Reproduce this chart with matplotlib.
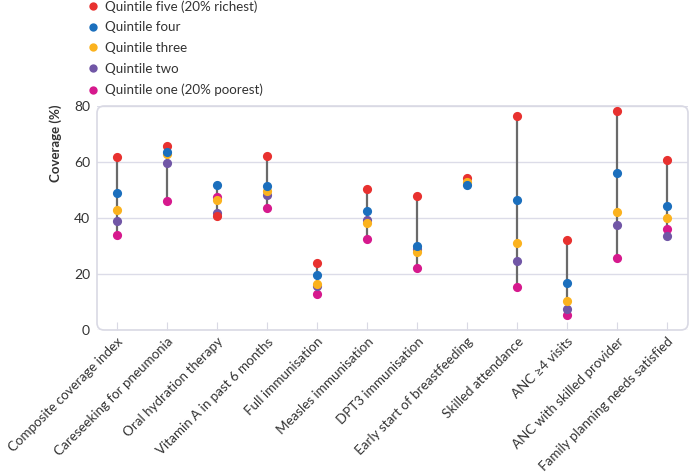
import numpy as np
import matplotlib
matplotlib.use("Agg")
import matplotlib.pyplot as plt
from matplotlib.patches import FancyBboxPatch
from matplotlib.lines import Line2D

plt.rcParams['font.family'] = ['Lato', 'DejaVu Sans']

categories = [
    "Composite coverage index",
    "Careseeking for pneumonia",
    "Oral hydration therapy",
    "Vitamin A in past 6 months",
    "Full immunisation",
    "Measles immunisation",
    "DPT3 immunisation",
    "Early start of breastfeeding",
    "Skilled attendance",
    "ANC \u22654 visits",
    "ANC with skilled provider",
    "Family planning needs satisfied",
]

q5 = [61.7, 65.8, 40.6, 62.0, 23.8, 50.5, 48.0, 54.4, 76.5, 32.1, 78.1, 60.8]
q4 = [48.8, 63.6, 51.7, 51.4, 19.5, 42.6, 30.1, 51.7, 46.4, 16.7, 56.1, 44.4]
q3 = [42.9, 63.0, 46.3, 49.5, 16.4, 38.2, 27.9, 53.0, 31.0, 10.4, 42.3, 40.0]
q2 = [38.9, 59.6, 41.7, 48.1, 15.7, 39.3, 29.0, np.nan, 24.6, 7.5, 37.6, 33.5]
q1 = [33.9, 46.2, 47.4, 43.7, 13.0, 32.5, 22.1, np.nan, 15.4, 5.5, 25.7, 36.0]

series_labels = [
    "Quintile five (20% richest)",
    "Quintile four",
    "Quintile three",
    "Quintile two",
    "Quintile one (20% poorest)",
]
colors = ["#e8312f", "#1b6fbd", "#fbb21e", "#7156a6", "#d6198d"]
yticks = [0, 20, 40, 60, 80]

text_color = "#333333"
frame_color = "#d9d9e4"

W, H = 690, 473
fig = plt.figure(figsize=(W / 100, H / 100), dpi=100)
ax = fig.add_axes([97 / W, 1 - 330 / H, (688 - 97) / W, (330 - 106) / H])

x = np.arange(len(categories))
series = [q5, q4, q3, q2, q1]
data = np.array(series, dtype=float)
mins = np.nanmin(data, axis=0)
maxs = np.nanmax(data, axis=0)
ax.vlines(x, mins, maxs, color="#6a6a6a", lw=1.6, zorder=2)

# drawing order: q1, q2, q3, q5, q4
order = [4, 3, 0, 2, 1]
for z, i in enumerate(order):
    ax.plot(x, series[i], 'o', color=colors[i], ms=6.6, mec='none', zorder=3 + z)

ax.set_xlim(-0.4, 11.42)
ax.set_ylim(0, 80)
ax.set_yticks(yticks)
ax.set_xticks(x)
ax.set_xticklabels(categories, rotation=45, ha='right', va='top',
                   rotation_mode='anchor', fontsize=9.6, color=text_color)
ax.tick_params(axis='y', length=0, pad=5, labelsize=10, labelcolor=text_color)
ax.tick_params(axis='x', direction='in', length=6, width=0.8, color=frame_color, pad=4)
for s in ax.spines.values():
    s.set_visible(False)
ax.yaxis.grid(True, color="#dcdce8", lw=1)
ax.set_axisbelow(True)

w_px, h_px = 688 - 97, 330 - 106
frame = FancyBboxPatch((0, 0), 1, 1, boxstyle="round,pad=0,rounding_size=0.012",
                       mutation_aspect=w_px / h_px, transform=ax.transAxes,
                       fc='none', ec=frame_color, lw=1.2, clip_on=False, zorder=1)
ax.add_patch(frame)

fig.text(56 / W, 1 - 104 / H, "Coverage (%)", rotation=90, ha='center', va='top',
         fontsize=9.5, fontweight='bold', color=text_color)

handles = [Line2D([], [], marker='o', ls='none', color=c, ms=6, mec='none') for c in colors]
fig.legend(handles, series_labels, loc='upper left', bbox_to_anchor=(88 / W, 1 - 0 / H),
           frameon=False, fontsize=9.6, labelcolor=text_color, handlelength=0.8,
           handletextpad=0.5, labelspacing=0.66, borderaxespad=0, borderpad=0.0)

fig.savefig("out.png", dpi=100)
